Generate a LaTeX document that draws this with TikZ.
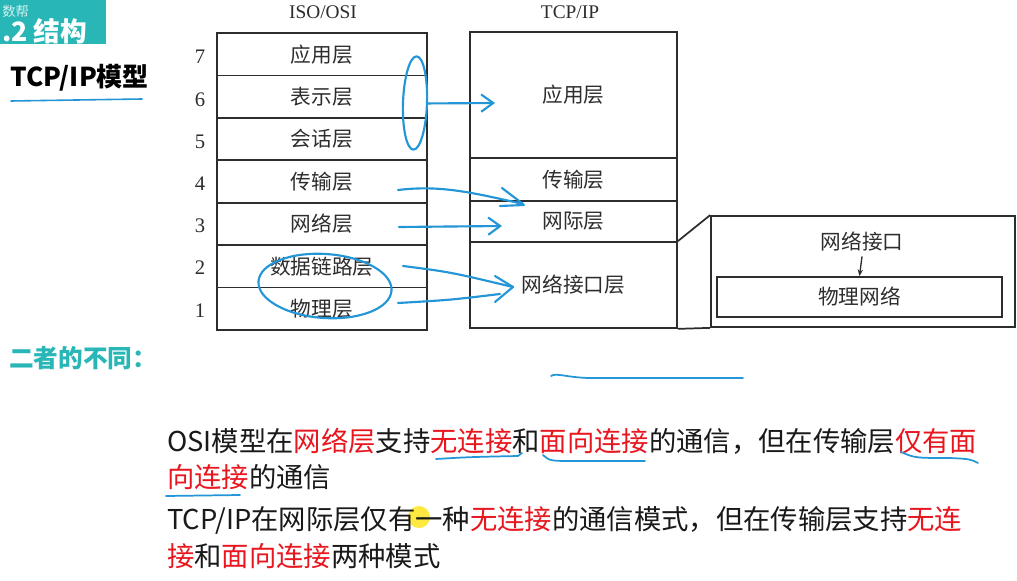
\documentclass[tikz,border=0pt]{standalone}
\usepackage{fontspec}
\setmainfont{Noto Sans CJK SC}
\newfontfamily\tms{Liberation Serif}
\usetikzlibrary{arrows.meta,shapes.geometric}
\definecolor{tealc}{RGB}{40,182,182}
\definecolor{hblue}{RGB}{35,150,215}
\definecolor{hred}{RGB}{232,22,30}
\definecolor{ink}{RGB}{45,45,45}
\newcommand\dfont{\fontsize{15.5}{18}\selectfont}
\newcommand\rd[1]{\textcolor{hred}{#1}}
\begin{document}
\begin{tikzpicture}[x=0.75pt,y=-0.75pt,
  lay/.style={draw=ink, line width=1.3pt, inner sep=0pt, font=\dfont, text=ink},
  lft/.style={lay, minimum width=157.5pt, minimum height=31.8pt},
  num/.style={font=\tms\fontsize{15.5}{17}\selectfont, text=ink},
  hdr/.style={font=\tms\fontsize{14.5}{17}\selectfont, text=ink},
  hb/.style={hblue, line width=1.6pt, line cap=round, line join=round},
  barb/.style={-{Straight Barb[length=9pt,width=13pt]}},
  body/.style={font=\fontsize{20.5}{24}\selectfont, text=black!90, anchor=west, inner sep=0pt}]
\useasboundingbox (0,0) rectangle (1017,581);
\fill[white] (0,0) rectangle (1017,581);
% banner
\fill[tealc] (0,0) rectangle (106,44);
\node[white, opacity=0.8, font=\fontsize{10}{11}\selectfont, anchor=west, inner sep=0pt] (wm) at (2,11) {数帮};
\node[white, font=\bfseries\fontsize{20}{24}\selectfont, anchor=west, inner sep=0pt] (ban) at (2,31) {.2 结构};
\node[font=\bfseries\fontsize{19.5}{22}\selectfont, anchor=west, inner sep=0pt] (ttl) at (10,78) {TCP/IP模型};
\coordinate (u0a) at (11,101); \coordinate (u0b) at (142,99);
\draw[hb, line width=1.2pt] (u0a) -- (u0b);
% headers
\node[hdr] (hiso) at (323,12) {ISO/OSI};
\node[hdr] (htcp) at (570,12) {TCP/IP};
% left stack
\node[lft] (o7) at (321.7,54.2) {应用层};
\node[lft] (o6) at (321.7,96.6) {表示层};
\node[lft] (o5) at (321.7,139.1) {会话层};
\node[lft] (o4) at (321.7,181.5) {传输层};
\node[lft] (o3) at (321.7,223.9) {网络层};
\node[lft] (o2) at (321.7,266.4) {数据链路层};
\node[lft] (o1) at (321.7,308.8) {物理层};
\node[num] (n7) at (200,57) {7};
\node[num] (n6) at (200,100) {6};
\node[num] (n5) at (200,142) {5};
\node[num] (n4) at (200,184) {4};
\node[num] (n3) at (200,226) {3};
\node[num] (n2) at (200,268) {2};
\node[num] (n1) at (200,311) {1};
% TCP/IP stack
\node[lay, minimum width=155.25pt, minimum height=94.5pt] (t4) at (573.5,95) {应用层};
\node[lay, minimum width=155.25pt, minimum height=32.25pt] (t3) at (573.5,179.5) {传输层};
\node[lay, minimum width=155.25pt, minimum height=30.75pt] (t2) at (573.5,221.5) {网际层};
\node[lay, minimum width=155.25pt, minimum height=64.5pt] (t1) at (573.5,285) {网络接口层};
% expansion box
\node[lay, minimum width=228pt, minimum height=83.25pt] (nb) at (863,271.5) {};
\draw[ink, line width=1.3pt] (t1.north east) -- (nb.north west);
\draw[ink, line width=1.3pt] (t1.south east) -- (nb.south west);
\node[font=\dfont, text=ink] (ni) at (862,242) {网络接口};
\node[lay, minimum width=213.75pt, minimum height=30pt] (pn) at (859.5,297) {物理网络};
\draw[ink, line width=1pt, -{Stealth[length=5pt,width=4pt]}] (ni.south) -- (pn.north);
% blue annotations on diagram
\node[hb, draw, ellipse, minimum width=18pt, minimum height=70pt, inner sep=0pt, rotate=-2] (e1) at (415,103) {};
\coordinate (a1) at (495,103);
\draw[hb, barb] (e1.east) -- (a1);
\coordinate (b0) at (398,190); \coordinate (b1) at (523,204);
\coordinate (b2) at (502,188); \coordinate (b3) at (500,206); \coordinate (b4) at (524,205);
\draw[hb] (b0) .. controls (440,185) and (470,192) .. (b1);
\draw[hb] (b2) -- (b1);
\draw[hb] (b3) -- (b4);
\coordinate (c0) at (399,227); \coordinate (c1) at (502,226);
\draw[hb, barb] (c0) -- (c1);
\node[hb, draw, ellipse, minimum width=100pt, minimum height=48pt, inner sep=0pt, rotate=-4] (e2) at (325,286) {};
\coordinate (d0) at (403,266); \coordinate (d1) at (513,287);
\coordinate (d2) at (398,303); \coordinate (d3) at (500,294);
\coordinate (d4) at (495,276); \coordinate (d5) at (495,302);
\draw[hb] (d0) .. controls (450,272) .. (d1);
\draw[hb] (d2) .. controls (450,300) .. (d3);
\draw[hb] (d4) -- (d1) -- (d5);
% section title
\node[tealc, font=\bfseries\fontsize{18.5}{22}\selectfont, anchor=west, inner sep=0pt] (diff) at (9,358) {二者的不同：};
\coordinate (s0) at (551,376); \coordinate (s1) at (743,378);
\draw[hb, line width=1.3pt] (s0) .. controls (556,372) and (570,379) .. (600,378) -- (s1);
% yellow pointer
\fill[yellow!85!orange, opacity=0.75] (419,517) circle (11);
% body text
\node[body] (l1) at (167,441) {OSI模型在\rd{网络层}支持\rd{无连接}和\rd{面向连接}的通信，但在传输层\rd{仅有面}};
\node[body] (l2) at (167,477) {\rd{向连接}的通信};
\node[body] (l3) at (167,520) {TCP/IP在网际层仅有一种\rd{无连接}的通信模式，但在传输层支持\rd{无连}};
\node[body] (l4) at (167,556) {\rd{接}和\rd{面向连接}两种模式};
% handwritten underlines
\draw[hb, line width=1.3pt] (436,459) .. controls (470,457) .. (518,456) -- (522,453);
\draw[hb, line width=1.3pt] (543,455) .. controls (550,461) .. (575,461) -- (645,461);
\draw[hb, line width=1.3pt] (901,452) .. controls (915,458) .. (950,458) .. controls (970,459) .. (978,463);
\draw[hb, line width=1.3pt] (166,496) -- (240,495);
\end{tikzpicture}
\end{document}
